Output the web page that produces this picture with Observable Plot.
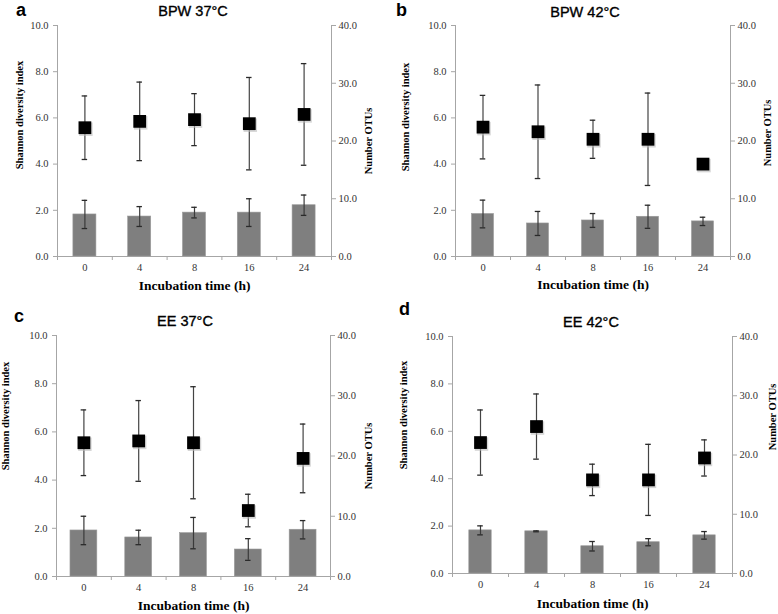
<!DOCTYPE html>
<html><head><meta charset="utf-8">
<script src="https://cdn.jsdelivr.net/npm/d3@7"></script>
<script src="https://cdn.jsdelivr.net/npm/@observablehq/plot@0.6"></script>
<style>
body{margin:0;background:#fff;}
#root{position:relative;width:778px;height:614px;overflow:hidden;background:#fff;}
.plotbox{position:absolute;}
.plotbox svg{overflow:visible;}
.letter{position:absolute;font-family:"Liberation Sans",Arial,sans-serif;font-weight:bold;font-size:18px;line-height:20px;color:#000;}
.title{position:absolute;font-family:"Liberation Sans",Arial,sans-serif;font-size:14.5px;line-height:16px;color:#000;white-space:nowrap;transform:translateX(-50%);-webkit-text-stroke:0.35px #000;}
</style></head><body><div id="root"></div>
<script>
// ---- data ----
const times = ["0", "4", "8", "16", "24"];
const panelLetters = ["a", "b", "c", "d"];
const panelTitles = ["BPW 37°C", "BPW 42°C", "EE 37°C", "EE 42°C"];
const leftTicks = [0, 2, 4, 6, 8, 10];
const rightTicks = [0, 10, 20, 30, 40];
const yTitle = "Shannon diversity index";
const y2Title = "Number OTUs";
const xTitle = "Incubation time (h)";

// Shannon diversity index (bars) and error
const shannonBPW37 = [1.82, 1.73, 1.90, 1.90, 2.22];
const shannonErrBPW37 = [0.61, 0.43, 0.23, 0.60, 0.44];
const shannonBPW42 = [1.84, 1.43, 1.56, 1.72, 1.52];
const shannonErrBPW42 = [0.60, 0.52, 0.30, 0.50, 0.18];
const shannonEE37 = [1.91, 1.62, 1.80, 1.12, 1.94];
const shannonErrEE37 = [0.59, 0.30, 0.65, 0.45, 0.38];
const shannonEE42 = [1.82, 1.78, 1.15, 1.32, 1.61];
const shannonErrEE42 = [0.19, 0.02, 0.20, 0.15, 0.16];

// Number of OTUs (squares) and error
const otusBPW37 = [22.3, 23.4, 23.7, 23.0, 24.6];
const otusErrBPW37 = [5.5, 6.8, 4.5, 8.0, 8.8];
const otusBPW42 = [22.4, 21.6, 20.3, 20.3, 16.0];
const otusErrBPW42 = [5.5, 8.1, 3.3, 8.0, 0];
const otusEE37 = [22.2, 22.5, 22.2, 10.95, 19.6];
const otusErrEE37 = [5.45, 6.7, 9.3, 2.7, 5.7];
const otusEE42 = [22.1, 24.8, 15.8, 15.8, 19.5];
const otusErrEE42 = [5.5, 5.5, 2.65, 6.0, 3.05];

const series = [
  [shannonBPW37, shannonErrBPW37, otusBPW37, otusErrBPW37],
  [shannonBPW42, shannonErrBPW42, otusBPW42, otusErrBPW42],
  [shannonEE37, shannonErrEE37, otusEE37, otusErrEE37],
  [shannonEE42, shannonErrEE42, otusEE42, otusErrEE42]
];

// ---- layout ----
const layouts = [
  {left: 0, top: 18, width: 389, height: 282, m: [7, 58, 44, 57], half: 0.21,
   letter: [16, 0], title: [193, 3], yT: [-38, -26], y2T: [37, 0], xT: 29},
  {left: 390, top: 18, width: 388, height: 282, m: [7, 48, 44, 65], half: 0.2,
   letter: [396, 0], title: [585, 4], yT: [-50, -24], y2T: [37, -8], xT: 28},
  {left: 0, top: 328, width: 389, height: 286, m: [7, 59, 38, 56], half: 0.245,
   letter: [14, 306], title: [185, 313], yT: [-51, -40], y2T: [38, 0], xT: 29},
  {left: 390, top: 328, width: 388, height: 286, m: [8, 46, 41, 62], half: 0.2,
   letter: [399, 299], title: [591, 314], yT: [-49, -40], y2T: [40, -38], xT: 30}
];

const axisColor = "#a6a6a6";
const textColor = "#333";
const serif = "'Liberation Serif','Times New Roman',serif";
const ratio = 4; // right axis (0-40) mapped onto left axis (0-10)

function makePanel(L, s) {
  const [sh, she, ot, ote] = s;
  const rows = times.map((t, i) => ({i, t, s: sh[i], se: she[i], o: ot[i] / ratio, oe: ote[i] / ratio}));
  const capW = 0.05;
  const bounds = d3.range(times.length + 1).map(k => k - 0.5);
  return Plot.plot({
    width: L.width, height: L.height,
    marginTop: L.m[0], marginRight: L.m[1], marginBottom: L.m[2], marginLeft: L.m[3],
    style: {fontFamily: serif, fontSize: "10.5px", background: "transparent", color: textColor},
    x: {type: "linear", domain: [-0.5, times.length - 0.5], axis: null},
    y: {domain: [0, 10], axis: null},
    marks: [
      Plot.ruleY([0], {stroke: axisColor}),
      Plot.ruleX([bounds[0], bounds[bounds.length - 1]], {y1: 0, y2: 10, stroke: axisColor}),
      Plot.axisX({ticks: bounds, tickFormat: () => "", tickSize: 4, stroke: axisColor, label: null}),
      Plot.axisX({ticks: d3.range(times.length), tickFormat: i => times[i], tickSize: 0, tickPadding: 7, fill: textColor, label: null}),
      Plot.axisY({ticks: leftTicks, tickFormat: d => d.toFixed(1), tickSize: 4, tickPadding: 5, stroke: axisColor, fill: textColor, label: null}),
      Plot.axisY({anchor: "right", ticks: rightTicks.map(v => v / ratio), tickFormat: d => (d * ratio).toFixed(1), tickSize: 4, tickPadding: 3, stroke: axisColor, fill: textColor, label: null}),
      // bars
      Plot.rectY(rows, {x1: d => d.i - L.half, x2: d => d.i + L.half, y1: 0, y2: "s", fill: "#7f7f7f", stroke: "#9a9a9a", strokeWidth: 0.6}),
      Plot.ruleX(rows, {x: "i", y1: d => d.s - d.se, y2: d => d.s + d.se, stroke: "#3a3a3a", strokeWidth: 1.2}),
      Plot.ruleY(rows, {y: d => d.s + d.se, x1: d => d.i - capW, x2: d => d.i + capW, stroke: "#2a2a2a", strokeWidth: 1.3}),
      Plot.ruleY(rows, {y: d => d.s - d.se, x1: d => d.i - capW, x2: d => d.i + capW, stroke: "#2a2a2a", strokeWidth: 1.3}),
      // OTUs
      Plot.ruleX(rows.filter(d => d.oe > 0), {x: "i", y1: d => d.o - d.oe, y2: d => d.o + d.oe, stroke: "#444", strokeWidth: 1.2}),
      Plot.ruleY(rows.filter(d => d.oe > 0), {y: d => d.o + d.oe, x1: d => d.i - capW, x2: d => d.i + capW, stroke: "#2a2a2a", strokeWidth: 1.3}),
      Plot.ruleY(rows.filter(d => d.oe > 0), {y: d => d.o - d.oe, x1: d => d.i - capW, x2: d => d.i + capW, stroke: "#2a2a2a", strokeWidth: 1.3}),
      Plot.dot(rows, {x: "i", y: "o", symbol: "square", r: 7.6, fill: "#bbb", dx: 1, dy: 1.5, stroke: "none", fillOpacity: 0.6}),
      Plot.dot(rows, {x: "i", y: "o", symbol: "square", r: 7.2, fill: "#000", stroke: "none"}),
      // axis titles
      Plot.text([yTitle], {text: d => d, frameAnchor: "left", textAnchor: "middle", lineAnchor: "middle", rotate: -90, dx: L.yT[0], dy: L.yT[1], fontWeight: "bold", fontSize: 10.5, fill: "#000"}),
      Plot.text([y2Title], {text: d => d, frameAnchor: "right", textAnchor: "middle", lineAnchor: "middle", rotate: -90, dx: L.y2T[0], dy: L.y2T[1], fontWeight: "bold", fontSize: 10.5, fill: "#000"}),
      Plot.text([xTitle], {text: d => d, frameAnchor: "bottom", textAnchor: "middle", lineAnchor: "middle", dy: L.xT, fontWeight: "bold", fontSize: 13.5, fill: "#000"})
    ]
  });
}

const root = document.getElementById("root");
layouts.forEach((L, k) => {
  const box = document.createElement("div");
  box.className = "plotbox";
  box.style.left = L.left + "px";
  box.style.top = L.top + "px";
  box.appendChild(makePanel(L, series[k]));
  root.appendChild(box);
  const letter = document.createElement("div");
  letter.className = "letter";
  letter.textContent = panelLetters[k];
  letter.style.left = L.letter[0] + "px";
  letter.style.top = L.letter[1] + "px";
  root.appendChild(letter);
  const title = document.createElement("div");
  title.className = "title";
  title.textContent = panelTitles[k];
  title.style.left = L.title[0] + "px";
  title.style.top = L.title[1] + "px";
  root.appendChild(title);
});
</script>
</body></html>
